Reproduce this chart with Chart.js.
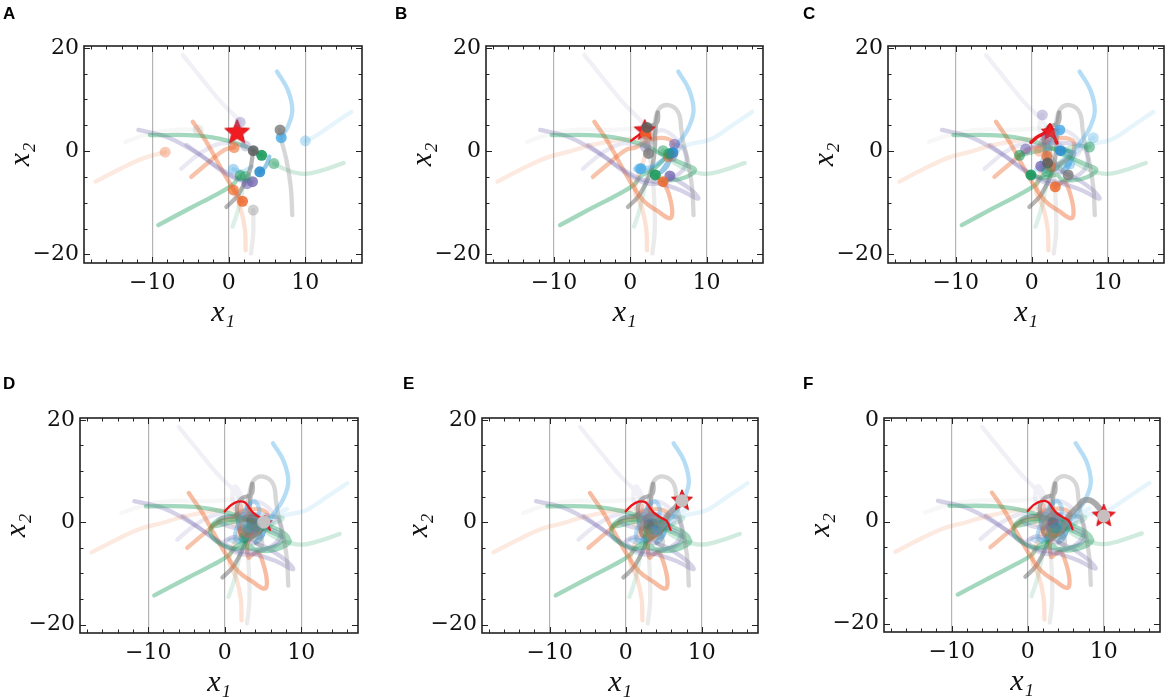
<!DOCTYPE html>
<html lang="en">
<head>
<meta charset="UTF-8">
<title>Swarm trajectories</title>
<script src="https://cdn.jsdelivr.net/npm/chart.js"></script>
<style>
  html, body { margin: 0; padding: 0; background: #fff; overflow: hidden; }
  body { width: 1170px; height: 697px; position: relative; }
  canvas.panel { position: absolute; }
  .letter { position: absolute; font: bold 17px "Liberation Sans", Arial, sans-serif; line-height: 1; color: #000; }
</style>
</head>
<body>
<script>
// axis limits and ticks
const xLimits = [-18.9, 17.4];
const yLimits = [-21.65, 20.35];
const xTickLabels = [-10, 0, 10];
const yTickLabels = [-20, 0, 20];
const xMinorTicks = [-18, -16, -14, -12, -10, -8, -6, -4, -2, 0, 2, 4, 6, 8, 10, 12, 14, 16];
const yMinorTicks = [-20, -15, -10, -5, 0, 5, 10, 15, 20];
const panelLetters = ['A', 'B', 'C', 'D', 'E', 'F'];
// panel F shows only "0" at the top of its y axis
const yTopText = ['20', '20', '20', '20', '20', '0'];

// one entry per particle
const particleColor = ['#7468b0', '#4faee6', '#4faee6', '#7a7a7a', '#1a9a5c', '#1a9a5c', '#9a9a9a',
  '#ee6a2e', '#7468b0', '#7468b0', '#ee6a2e', '#ee6a2e', '#ee6a2e', '#1a9a5c', '#5c5c5c',
  '#9a9a9a', '#2e8fd0', '#4faee6', '#7468b0', '#1a9a5c'];
const trailAlpha = [0.1, 0.42, 0.14, 0.3, 0.4, 0.2, 0.08, 0.15, 0.3, 0.25, 0.45, 0.4, 0.2, 0.4, 0.45,
  0.2, 0.5, 0.3, 0.15, 0.15];
const dotAlpha = [0.35, 0.85, 0.35, 0.8, 0.9, 0.5, 0.2, 0.35, 0.8, 0.6, 0.85, 0.6, 0.7, 0.6, 0.85,
  0.45, 0.9, 0.45, 0.3, 0.4];
// dots fade once the swarm has collapsed (panels D-F)
const dotFade = [1, 1, 1, 0.45, 0.45, 0.45];

// trajectory pieces: stageA is the history shown in A, later stages are what each panel adds
const stageA = [
  [[-6.0, 18.6], [-3.5, 14], [-1, 9.5], [1.2, 6.2], [1.5, 5.6]],
  [[6.3, 15.4], [7.7, 11.9], [8.3, 7.9], [7.7, 4.7], [6.85, 2.6]],
  [[16, 7.6], [13.4, 5], [11, 2.6], [10, 2.0]],
  [[8.3, -12.4], [8.1, -7], [7.5, -1.5], [6.9, 2.0], [6.7, 4.1]],
  [[-10.3, 3.1], [-4, 3.0], [0, 2.0], [2.5, 0.7], [4.3, -0.8]],
  [[15, -2.3], [12, -3.8], [9.8, -4.4], [7.5, -3.6], [5.9, -2.4]],
  [[-13.5, 1.8], [-10, 3.5], [-6, 4.2], [-4, 4.1]],
  [[-17.4, -5.9], [-14, -3.3], [-11, -1.3], [-8.3, -0.2]],
  [[-11.8, 4.1], [-8, 2.7], [-4, -0.5], [-1, -3.5], [1.5, -5.5], [3.1, -5.9]],
  [[-5.5, 1.2], [-3, -1.5], [-0.5, -4.3], [2.4, -6.3]],
  [[-4.7, 5.7], [-3, 2], [-1.5, -2], [0.3, -6.6], [1.8, -9.7]],
  [[-4.9, -5], [-2.5, -2], [-0.5, 0.3], [0.7, 0.7]],
  [[2.2, -19.2], [2.1, -15], [1.5, -10.9], [0.6, -7.5]],
  [[-9.2, -14.3], [-5, -11], [-1.5, -8.3], [0.5, -6.5], [1.5, -4.7]],
  [[-0.3, -10.8], [1.2, -8.5], [2.7, -4], [3.2, 0.1]],
  [[2.9, -19.8], [3.2, -15.9], [3.2, -11.4]],
  [[5.3, -1.1], [4.8, -3], [4.05, -4]],
  [[3, -3], [1.8, -3.9], [0.6, -3.5]],
  [[-6.2, -3.4], [-3.8, -0.5], [-1, 1.5], [2.2, 1.0]],
  [[0.5, -14.6], [1.2, -11.5], [1.8, -7.5], [2.2, -4.9]]
];
const stageB = [
  [[2.2, 3.6], [2.0, 0.8]],
  [[5.5, 0], [3.2, -2.8], [1.4, -3.4]],
  [[7.5, 1.2], [5.5, -0.4]],
  [[6.3, 7.5], [5.0, 8.9], [3.8, 8.2], [3.2, 5.5], [2.8, 2.0], [2.4, -0.45]],
  [[7, -2.5], [8.5, -3.7], [6.5, -5.4], [4, -5.5], [3.3, -4.6]],
  [[5, -1.2], [4.3, 0.1]],
  [[-1, 4.2], [1.5, 4.5], [2.1, 4.6]],
  [[-5, 1.2], [-1.5, 2.2], [1.5, 2.6], [2.2, 3.1]],
  [[6.5, -7.5], [8.9, -9.2], [8, -7.5], [5.2, -4.8]],
  [[5, -5.5], [7.2, -3], [7, 0.5], [5.8, 1.35]],
  [[3.5, -11.5], [5.2, -13], [5.5, -11.5], [5, -8], [4.3, -5.9]],
  [[2.5, 2.2], [4.5, 2.5], [5.6, 1.5], [5, -1.1]],
  [[1.5, -3], [2.2, 1], [2, 3.4]],
  [[3, -3.5], [5.2, -0.45]],
  [[3.3, 4], [3.6, 7.5], [3.5, 5.5], [2.2, 4.6]],
  [[3.0, -6], [2.6, -1.5], [1.9, 1.8]],
  [[5, -2], [5.6, -0.3]],
  [[1.2, -3.4]],
  [[3.5, 3.8], [5, 3.6], [6.5, 1], [5.5, -1]],
  [[3.5, -3], [5, -0.5]]
];
const stageC = [
  [[1.0, 4.5], [1.4, 7.0]],
  [[2.0, 0.5], [3.7, 4.1]],
  [[7, 1.5], [8.1, 2.6]],
  [[3.5, -3], [4.8, -4.6]],
  [[1.5, -5.2], [-0.1, -4.6]],
  [[6, 1], [7.6, 0.8]],
  [[3, 3]],
  [[1, 0]],
  [[2.5, -3.5], [1.2, -2.9]],
  [[2.5, 1.5], [-0.8, 0.4]],
  [[3.5, -6.5], [3.1, -6.9]],
  [[3.5, -2.5], [2.5, -3]],
  [[2, -1]],
  [[3, 0.5], [-1.6, -0.8]],
  [[1.6, 3], [2.1, -2.3]],
  [[2.5, -0.5], [1.6, 1.5]],
  [[4.5, 0], [3.8, 0.1]],
  [[3, -3.5], [5, -2.5]],
  [[3.5, 1.5], [1.9, 2.3]],
  [[3, -3], [2, -4]]
];
const stageD = [
  [[2.5, 4], [3.5, 0.5], [3.2, -1.5]],
  [[4.5, 2], [3, -2], [2.8, -1]],
  [[6, 1], [4, -0.5]],
  [[4.5, -2], [2.5, 0.5], [2.2, -2.5], [4.5, -3], [3.8, -1.5]],
  [[-1.8, -2.5], [-1.5, -0.5], [1, 0.5], [4.5, 0], [8.3, -3], [6, -5], [3, -5], [2.5, -3]],
  [[6, -0.5], [4, -1]],
  [[3.5, 0]],
  [[2.5, -1.5]],
  [[0, -4], [2, -5.5], [6, -5], [7.5, -3], [5, -1], [3, -2]],
  [[1, -1], [4, -1], [3.5, 0]],
  [[3, -4], [4, -2], [3.5, -1]],
  [[2, -1.5], [3.5, -0.5]],
  [[3, -2]],
  [[0, 1], [3, 0.5], [4.5, -1], [3, -1.5]],
  [[3, -3], [4.8, -1.5], [4.2, 1.2], [2.4, 0.8], [3.5, 0.5]],
  [[3, -1], [4.2, 0.8], [3.2, 1.5], [2.4, -0.5], [3.5, -2.5], [5.1, 0]],
  [[3, -2], [3.5, -1]],
  [[4, -1], [3, -1]],
  [[3, 0], [4, -1]],
  [[3, -2], [3.5, -0.5]]
];
const stageE = [
  [[3.8, -0.5]], [[3.2, -0.3]], [[3.5, -1]], [[3.5, -0.5]], [[3, -1.5]],
  [[3.6, -0.5]], [[3, 0.3]], [[3, -1]], [[3.5, -1.5]], [[3, 0.5]],
  [[3.2, -2]], [[3.8, -1]], [[3.5, -2.5]], [[3.5, -1]], [[3, -0.5]],
  [[5.4, 1.1], [6.7, 3.1], [7.4, 4.2]],
  [[4, -1.5]], [[3.5, -1.8]], [[3.6, -0.2]], [[3, -2.5]]
];
const stageF = [
  [[3.4, -0.9]], [[3.6, -1.0]], [[3.8, -0.6]], [[3.2, -1.2]], [[3.5, -1.2]],
  [[3.3, -1.5]], [[3.4, 0]], [[3.3, -1.4]], [[3, -0.8]], [[3.4, 0.2]],
  [[3.6, -1.8]], [[3.4, -0.7]], [[3.1, -2.2]], [[3.8, -1.3]], [[3.3, -0.2]],
  [[8.5, 4.0], [9.5, 2.5], [10, 1.1]],
  [[3.7, -1.2]], [[3.2, -1.6]], [[3.9, -0.4]], [[3.3, -2.2]]
];
const stages = [stageA, stageB, stageC, stageD, stageE, stageF];
const chaser = 15;   // the particle that drags the best position out in E and F

// best-so-far position (star) and its red trace
const starPos = [[1.1, 3.6], [1.9, 4.0], [2.4, 3.7], [5.2, -0.2], [7.4, 4.2], [10, 1.1]];
const starSize = [13, 11, 9, 8, 11, 12];
const bestPathB = [[0.1, 2.0], [1.0, 3.0], [1.9, 4.0]];
const bestPathC = [[-0.1, 1.7], [0.8, 2.8], [1.8, 3.6], [2.4, 5.0], [2.8, 3.4], [3.3, 1.6]];
const bestPathD = [[0, 2.1], [0.8, 3.3], [1.7, 4.0], [2.6, 3.9], [3.3, 2.6], [3.8, 1.7], [4.6, 0.9], [5.4, 0.2], [5.9, -1.5]];
const bestPaths = [null, bestPathB, bestPathC, bestPathD, bestPathD, bestPathD];

// where each axes box sits on the page
const panels = [
  {l: 84, t: 46, w: 283, h: 217, lx: 3, ly: 5},
  {l: 486, t: 46, w: 282, h: 217, lx: 395, ly: 5},
  {l: 888, t: 46, w: 281, h: 217, lx: 803, ly: 5},
  {l: 80, t: 418, w: 283, h: 215, lx: 3, ly: 375},
  {l: 482, t: 418, w: 281, h: 215, lx: 403, ly: 375},
  {l: 884, t: 418, w: 281, h: 214, lx: 803, ly: 375}
];

function rgba(hex, a) {
  const n = parseInt(hex.slice(1), 16);
  return `rgba(${n >> 16}, ${(n >> 8) & 255}, ${n & 255}, ${a})`;
}
function pts(list) {
  return list.map(p => ({x: p[0], y: p[1]}));
}
function fmt(v) {
  return v < 0 ? '\u2212' + Math.abs(v) : String(v);
}

function makeStar(r) {
  const c = document.createElement('canvas');
  const s = Math.ceil(2 * r + 4);
  c.width = s; c.height = s;
  const g = c.getContext('2d');
  g.beginPath();
  for (let i = 0; i < 10; i++) {
    const rr = i % 2 === 0 ? r : r * 0.45;
    const a = -Math.PI / 2 + i * Math.PI / 5;
    g.lineTo(s / 2 + rr * Math.cos(a), s / 2 + rr * Math.sin(a));
  }
  g.closePath();
  g.fillStyle = '#f01c22';
  g.fill();
  g.strokeStyle = '#d0141a';
  g.lineWidth = 1;
  g.stroke();
  return c;
}

// frame with inward ticks on all four sides
const framePlugin = {
  id: 'frame',
  afterDatasetsDraw(chart) {
    const {ctx, chartArea: a, scales: {x, y}} = chart;
    ctx.save();
    ctx.strokeStyle = '#222';
    ctx.lineWidth = 1;
    ctx.beginPath();
    xMinorTicks.forEach(v => {
      const px = Math.round(x.getPixelForValue(v)) + 0.5;
      const len = xTickLabels.includes(v) ? 6 : 3.5;
      ctx.moveTo(px, a.bottom); ctx.lineTo(px, a.bottom - len);
      ctx.moveTo(px, a.top); ctx.lineTo(px, a.top + len);
    });
    yMinorTicks.forEach(v => {
      const py = Math.round(y.getPixelForValue(v)) + 0.5;
      const len = yTickLabels.includes(v) ? 6 : 3.5;
      ctx.moveTo(a.left, py); ctx.lineTo(a.left + len, py);
      ctx.moveTo(a.right, py); ctx.lineTo(a.right - len, py);
    });
    ctx.stroke();
    ctx.lineWidth = 1.6;
    ctx.strokeRect(a.left, a.top, a.right - a.left, a.bottom - a.top);
    ctx.restore();
  }
};

const titleFont = {family: '"Liberation Serif", "DejaVu Serif", serif', size: 30, style: 'italic'};
const tickFont = {family: '"DejaVu Serif", serif', size: 22};

panels.forEach((p, k) => {
  const canvas = document.createElement('canvas');
  canvas.className = 'panel';
  canvas.width = p.w + 90;
  canvas.height = p.h + 110;
  canvas.style.left = (p.l - 84) + 'px';
  canvas.style.top = (p.t - 25) + 'px';
  document.body.appendChild(canvas);

  const letter = document.createElement('div');
  letter.className = 'letter';
  letter.textContent = panelLetters[k];
  letter.style.left = p.lx + 'px';
  letter.style.top = p.ly + 'px';
  document.body.appendChild(letter);

  const datasets = [];
  const dots = [], dotColors = [], dotSizes = [];
  particleColor.forEach((col, i) => {
    let path = [];
    for (let s = 0; s <= k; s++) path = path.concat(stages[s][i]);
    datasets.push({
      data: pts(path), showLine: true, borderColor: rgba(col, trailAlpha[i]),
      borderWidth: 4.3, borderCapStyle: 'round', borderJoinStyle: 'round',
      pointRadius: 0, tension: 0.4, order: 6
    });
    const last = path[path.length - 1];
    dots.push({x: last[0], y: last[1]});
    if (i === chaser && k >= 3) {
      dotColors.push('rgba(196, 196, 196, 0.97)');
      dotSizes.push(6.5);
    } else {
      dotColors.push(rgba(col, dotAlpha[i] * dotFade[k]));
      dotSizes.push(5.5);
    }
  });

  // the chasing particle's recent path is drawn heavier
  if (k >= 3) {
    let path = stageC[chaser].slice(-1);
    for (let s = 3; s <= k; s++) path = path.concat(stages[s][chaser]);
    datasets.push({
      data: pts(path), showLine: true, borderColor: rgba('#8a8a8a', k === 3 ? 0.5 : 0.68),
      borderWidth: 6, borderCapStyle: 'round', borderJoinStyle: 'round',
      pointRadius: 0, tension: 0.4, order: 5
    });
  }

  if (bestPaths[k]) {
    datasets.push({
      data: pts(bestPaths[k]), showLine: true, borderColor: '#e8161c',
      borderWidth: k === 2 ? 3.5 : 2.3, borderCapStyle: 'round',
      pointRadius: 0, tension: 0.4, order: 4
    });
  }

  // in D the star sits underneath the collapsed swarm
  datasets.push({
    data: pts([starPos[k]]), pointStyle: makeStar(starSize[k]), pointRadius: 10,
    showLine: false, order: k === 3 ? 7 : 3
  });

  datasets.push({
    data: dots, pointBackgroundColor: dotColors, pointBorderWidth: 0,
    pointRadius: dotSizes, showLine: false, order: 1
  });

  new Chart(canvas, {
    type: 'scatter',
    data: {datasets},
    options: {
      responsive: false,
      animation: false,
      events: [],
      layout: {padding: {top: 25, right: 6, left: 0, bottom: 0}},
      plugins: {legend: {display: false}, tooltip: {enabled: false}},
      scales: {
        x: {
          type: 'linear', min: xLimits[0], max: xLimits[1],
          afterBuildTicks: s => { s.ticks = xTickLabels.map(v => ({value: v})); },
          afterFit: s => { s.height = 85; },
          grid: {color: '#b4b4b4', lineWidth: 1.2, drawTicks: false},
          border: {display: false},
          ticks: {padding: 7, color: '#111', maxRotation: 0, font: tickFont, callback: v => fmt(v)},
          title: {display: true, text: 'x\u2081', color: '#111', font: titleFont, padding: {top: 0, bottom: 17}}
        },
        y: {
          type: 'linear', min: yLimits[0], max: yLimits[1],
          afterBuildTicks: s => { s.ticks = yTickLabels.map(v => ({value: v})); },
          afterFit: s => { s.width = 84; },
          grid: {display: false, drawTicks: false},
          border: {display: false},
          ticks: {padding: 5, color: '#111', font: tickFont, callback: v => (v === 20 ? yTopText[k] : fmt(v))},
          title: {display: true, text: 'x\u2082', color: '#111', font: titleFont, padding: {top: 3, bottom: 0}}
        }
      }
    },
    plugins: [framePlugin]
  });
});
</script>
</body>
</html>
